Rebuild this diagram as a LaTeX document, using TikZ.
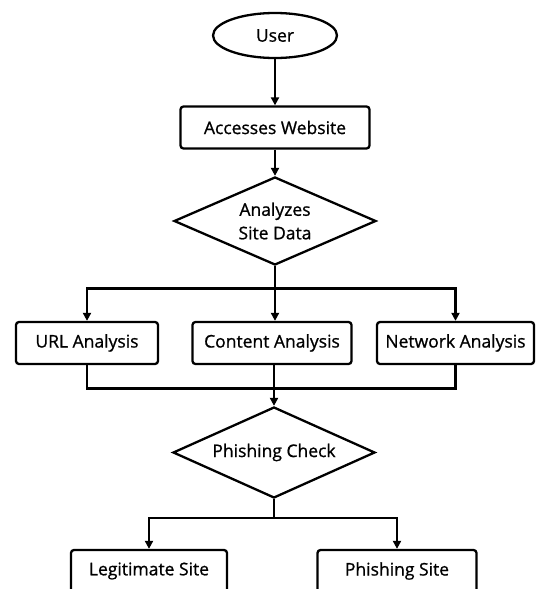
\documentclass[tikz,border=0pt]{standalone}
\usepackage{fontspec}
\setmainfont{Open Sans}[FakeBold=0.9]
\usetikzlibrary{shapes.geometric,arrows.meta}
\begin{document}
\begin{tikzpicture}[x=1pt,y=-1pt,
  line width=2.3pt,
  font=\fontsize{17.5}{23.5}\selectfont,
  box/.style={draw, rounded corners=3pt, minimum height=42pt, inner sep=0pt},
  dia/.style={draw, diamond, aspect=2.2, inner sep=0pt, align=center},
  arr/.style={-{Triangle[length=8pt,width=8pt]}},
  link/.style={}]
\useasboundingbox (0,0) rectangle (536,589);
\node[draw, ellipse, minimum width=124pt, minimum height=45pt, inner sep=0pt] (user) at (275,35.5) {User};
\node[box, minimum width=189pt] (access) at (275,127.5) {Accesses Website};
\node[dia, minimum width=202pt, minimum height=88pt] (analyze) at (275,221) {Analyzes\\Site Data};
\node[box, minimum width=142pt] (url) at (87,343) {URL Analysis};
\node[box, minimum width=159pt] (content) at (272,343) {Content Analysis};
\node[box, minimum width=157pt] (network) at (455.5,343) {Network Analysis};
\node[dia, minimum width=202pt, minimum height=91pt] (check) at (274,452.5) {Phishing Check};
\node[box, minimum width=156pt] (legit) at (149,571) {Legitimate Site};
\node[box, minimum width=159pt] (phish) at (397,571) {Phishing Site};

\draw[arr] (user) -- (access);
\draw[arr] (access) -- (analyze);
\coordinate (s1) at (275,288.5);
\draw[link] (analyze.south) -- (s1);
\draw[arr] (s1) -| (url.north);
\draw[arr] (s1) -| (network.north);
\draw[arr] (s1) -- (s1 |- content.north);
\coordinate (m1) at (274,388.5);
\draw[link] (url.south) |- (m1);
\draw[link] (network.south) |- (m1);
\draw[arr] (content.south -| check.north) -- (check.north);
\coordinate (s2) at (274,518);
\draw[link] (check.south) -- (s2);
\draw[arr] (s2) -| (legit.north);
\draw[arr] (s2) -| (phish.north);
\end{tikzpicture}
\end{document}
